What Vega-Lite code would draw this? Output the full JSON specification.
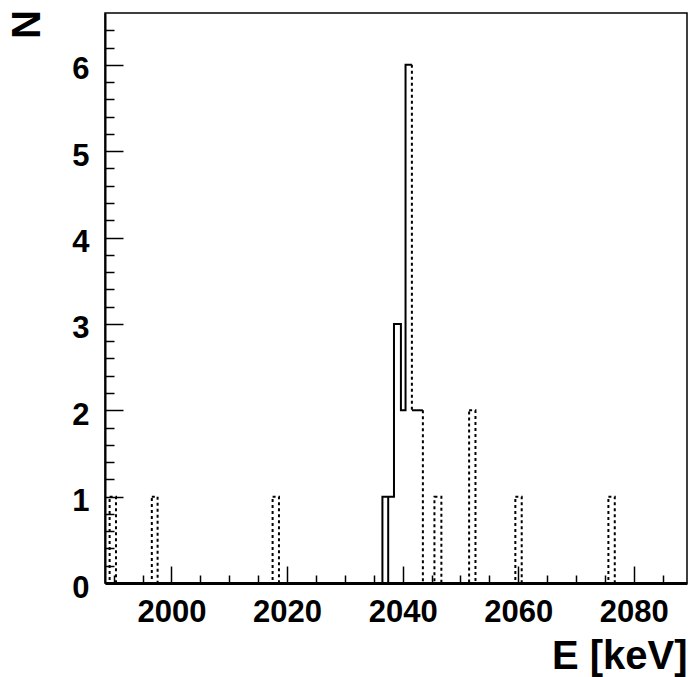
{
  "$schema": "https://vega.github.io/schema/vega-lite/v6.json",
  "width": 582,
  "height": 570,
  "autosize": {"type": "none"},
  "padding": {"left": 105, "top": 13, "right": 1, "bottom": 94},
  "background": "white",
  "config": {
    "view": {"stroke": "black", "strokeWidth": 1.5},
    "font": "Liberation Sans"
  },
  "datasets": {
    "spikes": [
      {"e": 1989.3, "e2": 1990.4, "n": 1},
      {"e": 1996.6, "e2": 1997.6, "n": 1},
      {"e": 2017.5, "e2": 2018.6, "n": 1},
      {"e": 2045.5, "e2": 2046.7, "n": 1},
      {"e": 2051.5, "e2": 2052.6, "n": 2},
      {"e": 2059.5, "e2": 2060.6, "n": 1},
      {"e": 2075.6, "e2": 2076.7, "n": 1}
    ],
    "solid": [
      {"seg": "a", "i": 0, "e": 2036.5, "n": 0},
      {"seg": "a", "i": 1, "e": 2036.5, "n": 1},
      {"seg": "a", "i": 2, "e": 2038.5, "n": 1},
      {"seg": "a", "i": 3, "e": 2038.5, "n": 3},
      {"seg": "a", "i": 4, "e": 2039.7, "n": 3},
      {"seg": "a", "i": 5, "e": 2039.7, "n": 2},
      {"seg": "a", "i": 6, "e": 2040.5, "n": 2},
      {"seg": "a", "i": 7, "e": 2040.5, "n": 6},
      {"seg": "a", "i": 8, "e": 2041.6, "n": 6},
      {"seg": "b", "i": 0, "e": 2041.6, "n": 2},
      {"seg": "b", "i": 1, "e": 2043.5, "n": 2},
      {"seg": "c", "i": 0, "e": 2037.5, "n": 0},
      {"seg": "c", "i": 1, "e": 2037.5, "n": 1}
    ],
    "dotted": [
      {"seg": "d1", "i": 0, "e": 2041.6, "n": 6},
      {"seg": "d1", "i": 1, "e": 2041.6, "n": 2},
      {"seg": "d2", "i": 0, "e": 2043.5, "n": 2},
      {"seg": "d2", "i": 1, "e": 2043.5, "n": 0}
    ]
  },
  "encoding": {
    "x": {
      "field": "e",
      "type": "quantitative",
      "scale": {"domain": [1988.5, 2089.2], "nice": false, "zero": false},
      "axis": {
        "title": "E [keV]",
        "values": [1990, 1995, 2000, 2005, 2010, 2015, 2020, 2025, 2030, 2035, 2040, 2045, 2050, 2055, 2060, 2065, 2070, 2075, 2080, 2085],
        "format": "d",
        "labelExpr": "datum.value % 20 === 0 ? datum.label : ''",
        "tickSize": {"condition": {"test": "datum.value % 20 === 0", "value": -17}, "value": -8},
        "tickWidth": 1.5,
        "tickColor": "black",
        "domainWidth": 3,
        "domainColor": "black",
        "grid": false,
        "zindex": 1,
        "labelFont": "Liberation Sans",
        "labelFontWeight": "bold",
        "labelFontSize": 31,
        "labelColor": "black",
        "labelPadding": 31,
        "labelFlush": false,
        "labelOverlap": false,
        "labelBaseline": "top",
        "titleFont": "Liberation Sans",
        "titleFontWeight": "bold",
        "titleFontSize": 40,
        "titleColor": "black",
        "titleAlign": "right",
        "titleBaseline": "alphabetic",
        "titleX": 582,
        "titleY": 85
      }
    },
    "y": {
      "field": "n",
      "type": "quantitative",
      "scale": {"domain": [0, 6.6], "nice": false, "zero": true},
      "axis": {
        "title": "N",
        "values": [0, 0.2, 0.4, 0.6, 0.8, 1, 1.2, 1.4, 1.6, 1.8, 2, 2.2, 2.4, 2.6, 2.8, 3, 3.2, 3.4, 3.6, 3.8, 4, 4.2, 4.4, 4.6, 4.8, 5, 5.2, 5.4, 5.6, 5.8, 6, 6.2, 6.4],
        "labelExpr": "abs(datum.value - round(datum.value)) < 0.01 ? format(datum.value, 'd') : ''",
        "tickSize": {"condition": {"test": "abs(datum.value - round(datum.value)) < 0.01", "value": -18}, "value": -9},
        "tickWidth": 1.5,
        "tickColor": "black",
        "domainWidth": 2,
        "domainColor": "black",
        "grid": false,
        "zindex": 1,
        "labelFont": "Liberation Sans",
        "labelFontWeight": "bold",
        "labelFontSize": 31,
        "labelColor": "black",
        "labelPadding": 34,
        "labelOffset": 5,
        "labelFlush": false,
        "labelOverlap": false,
        "labelBaseline": "middle",
        "titleFont": "Liberation Sans",
        "titleFontWeight": "bold",
        "titleFontSize": 40,
        "titleColor": "black",
        "titleAngle": -90,
        "titleAlign": "center",
        "titleBaseline": "middle",
        "titleX": -78,
        "titleY": 11
      }
    }
  },
  "layer": [
    {
      "data": {"name": "spikes"},
      "mark": {"type": "rect", "fillOpacity": 0, "stroke": "black", "strokeWidth": 2, "strokeDash": [3, 3]},
      "encoding": {
        "x2": {"field": "e2"},
        "y2": {"datum": 0}
      }
    },
    {
      "data": {"name": "dotted"},
      "mark": {"type": "line", "color": "black", "strokeWidth": 2, "strokeDash": [3, 3]},
      "encoding": {
        "detail": {"field": "seg", "type": "nominal"},
        "order": {"field": "i", "type": "quantitative"}
      }
    },
    {
      "data": {"name": "solid"},
      "mark": {"type": "line", "color": "black", "strokeWidth": 2},
      "encoding": {
        "detail": {"field": "seg", "type": "nominal"},
        "order": {"field": "i", "type": "quantitative"}
      }
    }
  ]
}
